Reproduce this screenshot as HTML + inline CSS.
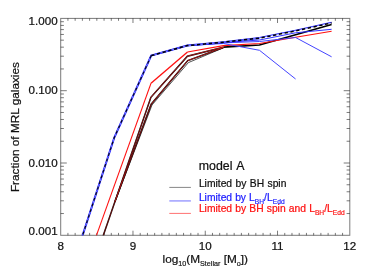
<!DOCTYPE html>
<html><head><meta charset="utf-8"><title>plot</title>
<style>
html,body{margin:0;padding:0;background:#fff;}
body{width:374px;height:274px;overflow:hidden;}
svg{display:block;font-family:"Liberation Sans",sans-serif;will-change:transform;}
</style></head><body>
<svg width="374" height="274" viewBox="0 0 374 274">
<defs><clipPath id="c"><rect x="60.7" y="18.4" width="289.1" height="216.9"/></clipPath></defs>
<rect width="374" height="274" fill="#fff"/>
<rect x="60.7" y="18.4" width="289.1" height="216.9" fill="none" stroke="#000" stroke-width="1.0" stroke-opacity="0.52"/>
<path d="M67.93 235.3v-2.4M67.93 18.4v2.4M75.15 235.3v-2.4M75.15 18.4v2.4M82.38 235.3v-2.4M82.38 18.4v2.4M89.61 235.3v-2.4M89.61 18.4v2.4M96.84 235.3v-2.4M96.84 18.4v2.4M104.06 235.3v-2.4M104.06 18.4v2.4M111.29 235.3v-2.4M111.29 18.4v2.4M118.52 235.3v-2.4M118.52 18.4v2.4M125.75 235.3v-2.4M125.75 18.4v2.4M132.98 235.3v-4.6M132.98 18.4v4.6M140.20 235.3v-2.4M140.20 18.4v2.4M147.43 235.3v-2.4M147.43 18.4v2.4M154.66 235.3v-2.4M154.66 18.4v2.4M161.89 235.3v-2.4M161.89 18.4v2.4M169.11 235.3v-2.4M169.11 18.4v2.4M176.34 235.3v-2.4M176.34 18.4v2.4M183.57 235.3v-2.4M183.57 18.4v2.4M190.80 235.3v-2.4M190.80 18.4v2.4M198.02 235.3v-2.4M198.02 18.4v2.4M205.25 235.3v-4.6M205.25 18.4v4.6M212.48 235.3v-2.4M212.48 18.4v2.4M219.70 235.3v-2.4M219.70 18.4v2.4M226.93 235.3v-2.4M226.93 18.4v2.4M234.16 235.3v-2.4M234.16 18.4v2.4M241.39 235.3v-2.4M241.39 18.4v2.4M248.62 235.3v-2.4M248.62 18.4v2.4M255.84 235.3v-2.4M255.84 18.4v2.4M263.07 235.3v-2.4M263.07 18.4v2.4M270.30 235.3v-2.4M270.30 18.4v2.4M277.53 235.3v-4.6M277.53 18.4v4.6M284.75 235.3v-2.4M284.75 18.4v2.4M291.98 235.3v-2.4M291.98 18.4v2.4M299.21 235.3v-2.4M299.21 18.4v2.4M306.44 235.3v-2.4M306.44 18.4v2.4M313.66 235.3v-2.4M313.66 18.4v2.4M320.89 235.3v-2.4M320.89 18.4v2.4M328.12 235.3v-2.4M328.12 18.4v2.4M335.35 235.3v-2.4M335.35 18.4v2.4M342.57 235.3v-2.4M342.57 18.4v2.4M60.7 90.70h6.1M349.8 90.70h-6.1M60.7 68.94h3.2M349.8 68.94h-3.2M60.7 56.20h3.2M349.8 56.20h-3.2M60.7 47.17h3.2M349.8 47.17h-3.2M60.7 40.16h3.2M349.8 40.16h-3.2M60.7 34.44h3.2M349.8 34.44h-3.2M60.7 29.60h3.2M349.8 29.60h-3.2M60.7 25.41h3.2M349.8 25.41h-3.2M60.7 21.71h3.2M349.8 21.71h-3.2M60.7 163.00h6.1M349.8 163.00h-6.1M60.7 141.24h3.2M349.8 141.24h-3.2M60.7 128.50h3.2M349.8 128.50h-3.2M60.7 119.47h3.2M349.8 119.47h-3.2M60.7 112.46h3.2M349.8 112.46h-3.2M60.7 106.74h3.2M349.8 106.74h-3.2M60.7 101.90h3.2M349.8 101.90h-3.2M60.7 97.71h3.2M349.8 97.71h-3.2M60.7 94.01h3.2M349.8 94.01h-3.2M60.7 213.54h3.2M349.8 213.54h-3.2M60.7 200.80h3.2M349.8 200.80h-3.2M60.7 191.77h3.2M349.8 191.77h-3.2M60.7 184.76h3.2M349.8 184.76h-3.2M60.7 179.04h3.2M349.8 179.04h-3.2M60.7 174.20h3.2M349.8 174.20h-3.2M60.7 170.01h3.2M349.8 170.01h-3.2M60.7 166.31h3.2M349.8 166.31h-3.2" fill="none" stroke="#000" stroke-width="1.0" stroke-opacity="0.52"/>
<g clip-path="url(#c)"><path d="M114.9 202.1 L152.0 105.0 L188.4 62.6 L223.4 47.8" fill="none" stroke="#000" stroke-width="0.9" stroke-linejoin="miter" stroke-opacity="0.75"/><path d="M101.7 240.0 L114.8 202.0" fill="none" stroke="#000" stroke-width="1.45" stroke-linejoin="miter" /><path d="M114.8 202.0 L150.9 97.3 L187.4 56.2 L223.4 47.2" fill="none" stroke="#000" stroke-width="1.5" stroke-linejoin="miter" /><path d="M114.8 202.0 L151.2 104.2 L187.8 60.6 L223.4 47.5" fill="none" stroke="#000" stroke-width="1.5" stroke-linejoin="miter" /><path d="M223.4 47.2 L259.5 45.0 L295.6 34.8 L331.6 24.5" fill="none" stroke="#000" stroke-width="1.7" stroke-linejoin="miter" /><path d="M114.8 202.0 L150.9 97.3" fill="none" stroke="#ff2020" stroke-width="0.48" stroke-linejoin="miter" /><path d="M150.9 97.3 L187.4 56.2 L223.4 47.2" fill="none" stroke="#ff2020" stroke-width="0.65" stroke-linejoin="miter" /><path d="M114.8 202.0 L151.2 104.2" fill="none" stroke="#ff2020" stroke-width="0.48" stroke-linejoin="miter" /><path d="M151.2 104.2 L187.8 60.6 L223.4 47.5" fill="none" stroke="#ff2020" stroke-width="0.65" stroke-linejoin="miter" /><path d="M101.7 240.0 L114.8 202.0" fill="none" stroke="#ff2020" stroke-width="0.4" stroke-linejoin="miter" /><path d="M94.8 240.0 L151.0 83.2" fill="none" stroke="#ff1010" stroke-width="1.05" stroke-linejoin="miter" /><path d="M151.0 83.2 L187.5 52.0" fill="none" stroke="#ff1010" stroke-width="1.35" stroke-linejoin="miter" /><path d="M187.5 52.0 L223.4 45.6 L259.5 43.5 L295.6 37.3 L331.6 31.3" fill="none" stroke="#ff1010" stroke-width="1.15" stroke-linejoin="miter" /><path d="M81.1 240.0 L114.3 137.5 L151.2 55.6 L187.3 45.6 L223.4 43.5 L259.5 50.3 L295.6 79.0" fill="none" stroke="#4444ff" stroke-width="1.0" stroke-linejoin="miter" /><path d="M81.1 240.0 L114.3 137.5 L151.2 55.6 L187.3 45.6 L223.4 42.9 L259.5 41.5 L295.6 37.5 L331.6 56.8" fill="none" stroke="#4444ff" stroke-width="1.0" stroke-linejoin="miter" /><path d="M81.1 240.0 L114.3 137.5 L151.2 55.6 L187.3 45.6 L223.4 42.6 L259.5 40.0 L295.6 32.8 L331.6 29.3" fill="none" stroke="#3030ff" stroke-width="1.0" stroke-linejoin="miter" /><path d="M81.1 240.0 L114.3 137.5 L151.2 55.6 L187.3 45.6 L223.4 42.2 L259.5 38.1" fill="none" stroke="#2020ff" stroke-width="2.0" stroke-linejoin="miter" /><path d="M259.5 37.6 L295.6 30.4 L331.6 22.4" fill="none" stroke="#2020ff" stroke-width="1.35" stroke-linejoin="miter" /><path d="M81.1 240.0 L114.3 137.5 L151.2 55.6 L187.3 45.6 L223.4 42.2 L259.5 38.1 L295.6 30.9 L331.6 22.9" fill="none" stroke="#fff" stroke-width="0.8" stroke-linejoin="miter" stroke-opacity="0.5"/><path d="M81.1 240.0 L114.3 137.5 L151.2 55.6" fill="none" stroke="#000" stroke-width="1.05" stroke-linejoin="miter" stroke-dasharray="3.0 2.9"/><path d="M151.2 55.6 L187.3 45.6 L223.4 42.2 L259.5 38.1 L295.6 30.9 L331.6 22.9" fill="none" stroke="#000" stroke-width="1.5" stroke-linejoin="miter" stroke-dasharray="3.3 2.6"/></g>
<path d="M169.3 187.4H190.9" stroke="#000" stroke-width="0.6" stroke-opacity="0.8"/>
<path d="M169.3 200.95H190.9" stroke="#2020ff" stroke-width="0.65"/>
<path d="M169.3 213.4H190.9" stroke="#ff1010" stroke-width="0.6"/>
<g id="txt" stroke-width="0.22">
<text x="57.6" y="25.2" font-size="11.6" text-anchor="end" fill="#111" stroke="#111" >1.000</text>
<text x="57.6" y="94.3" font-size="11.6" text-anchor="end" fill="#111" stroke="#111" >0.100</text>
<text x="57.6" y="166.8" font-size="11.6" text-anchor="end" fill="#111" stroke="#111" >0.010</text>
<text x="57.6" y="235.0" font-size="11.6" text-anchor="end" fill="#111" stroke="#111" >0.001</text>
<text x="60.7" y="250.2" font-size="11.6" text-anchor="middle" fill="#111" stroke="#111" >8</text>
<text x="133.0" y="250.2" font-size="11.6" text-anchor="middle" fill="#111" stroke="#111" >9</text>
<text x="205.2" y="250.2" font-size="11.6" text-anchor="middle" fill="#111" stroke="#111" >10</text>
<text x="277.5" y="250.2" font-size="11.6" text-anchor="middle" fill="#111" stroke="#111" >11</text>
<text x="349.8" y="250.2" font-size="11.6" text-anchor="middle" fill="#111" stroke="#111" >12</text>
<text x="205.3" y="263.3" font-size="11.8" text-anchor="middle" fill="#111" stroke="#111">log<tspan font-size="7.2" dy="2.6" stroke-width="0.17">10</tspan><tspan dy="-2.6">(M</tspan><tspan font-size="7.2" dy="2.6" stroke-width="0.17">Stellar</tspan><tspan dy="-2.6"> [M</tspan><tspan font-size="7.2" dy="2.6" stroke-width="0.17">o</tspan><tspan dy="-2.6">])</tspan></text>
<text transform="translate(19.2 127.1) rotate(-90)" font-size="11.8" text-anchor="middle" fill="#111" stroke="#111">Fraction of MRL galaxies</text>
<text x="198.8" y="170.3" font-size="12.35" text-anchor="start" fill="#111" stroke="#111" word-spacing="1.1">model A</text>
<text x="198.9" y="187.0" font-size="10.3" text-anchor="start" fill="#111" stroke="#111" word-spacing="0.55">Limited by BH spin</text>
<text x="198.9" y="200.8" word-spacing="0.2" font-size="10.3" fill="#2020ff" stroke="#2020ff">Limited by L<tspan font-size="6.7" dy="2.9" stroke-width="0.17">BH</tspan><tspan dy="-2.9">/L</tspan><tspan font-size="6.7" dy="2.9" stroke-width="0.17">Edd</tspan></text>
<text x="198.9" y="211.7" word-spacing="0.3" font-size="10.3" fill="#ff1010" stroke="#ff1010">Limited by BH spin and L<tspan font-size="6.7" dy="2.9" stroke-width="0.17">BH</tspan><tspan dy="-2.9">/L</tspan><tspan font-size="6.7" dy="2.9" stroke-width="0.17">Edd</tspan></text>
</g>
</svg>
</body></html>
